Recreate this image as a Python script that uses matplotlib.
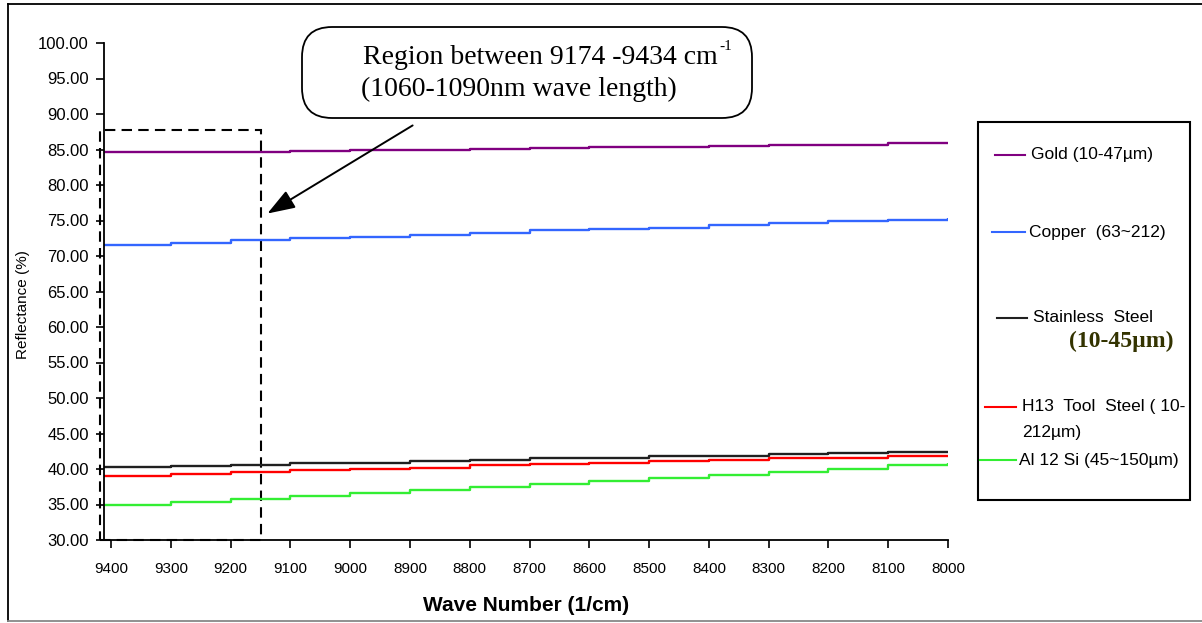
import matplotlib
matplotlib.use("Agg")
import matplotlib.pyplot as plt
from matplotlib.patches import FancyBboxPatch, Rectangle
from matplotlib.lines import Line2D

wave = [9412, 9300, 9200, 9100, 9000, 8900, 8800, 8700, 8600, 8500, 8400, 8300, 8200, 8100, 8000]
gold = [84.6, 84.6, 84.7, 84.8, 84.9, 85.0, 85.1, 85.2, 85.3, 85.4, 85.5, 85.6, 85.7, 85.9, 86.1]
copper = [71.5, 71.9, 72.2, 72.5, 72.7, 73.0, 73.3, 73.6, 73.8, 74.0, 74.3, 74.6, 74.9, 75.1, 75.3]
stainless = [40.3, 40.4, 40.6, 40.8, 40.9, 41.1, 41.3, 41.5, 41.6, 41.8, 41.9, 42.1, 42.2, 42.4, 42.5]
h13 = [39.0, 39.3, 39.6, 39.8, 40.0, 40.2, 40.5, 40.7, 40.9, 41.1, 41.3, 41.5, 41.6, 41.8, 42.0]
alsi = [35.0, 35.4, 35.8, 36.2, 36.6, 37.0, 37.5, 37.9, 38.3, 38.8, 39.2, 39.6, 40.0, 40.5, 40.9]

labels = ["Gold (10-47\u00b5m)", "Copper  (63~212)", "Stainless  Steel",
          "H13  Tool  Steel ( 10-", "Al 12 Si (45~150\u00b5m)"]
colors = ["#800080", "#3366FF", "#202020", "#FF0000", "#33EE33"]
values = [gold, copper, stainless, h13, alsi]
xticks = list(range(9400, 7999, -100))
yticks = list(range(30, 101, 5))

W, H = 1202, 623
plt.rcParams['font.family'] = ['Liberation Sans', 'DejaVu Sans']
fig = plt.figure(figsize=(W / 100, H / 100), dpi=100)

def fx(px):
    return px / W

def fy(py):
    return 1 - py / H

ax = fig.add_axes([fx(104), fy(540), fx(948) - fx(104), fy(43) - fy(540)])
for vals, col in zip(values, colors):
    ax.plot(wave, vals, color=col, lw=1.7, drawstyle="steps-post", solid_capstyle="butt")

ax.set_xlim(9412, 8000)
ax.set_ylim(30, 100)
ax.set_xticks(xticks)
ax.set_xticklabels([str(t) for t in xticks], fontsize=11,
                   family=['Liberation Sans Narrow', 'Liberation Sans'])
ax.set_yticks(yticks)
ax.set_yticklabels([f"{t:.2f}" for t in yticks], fontsize=12)
ax.spines["top"].set_visible(False)
ax.spines["right"].set_visible(False)
ax.spines["left"].set_linewidth(1.3)
ax.spines["bottom"].set_linewidth(1.3)
ax.tick_params(axis="y", direction="out", length=6, width=1.2, pad=5)
ax.tick_params(axis="x", direction="out", length=6, width=1.2, pad=10)
ax.set_xlabel("Wave Number (1/cm)", fontsize=15, fontweight="bold", labelpad=14)
ax.set_ylabel("Reflectance (%)", fontsize=11)
ax.yaxis.set_label_coords(-0.088, 0.473)

# dashed region box
ax.add_patch(Rectangle((9418, 30), 9150 - 9418, 87.7 - 30, fill=False,
                       ls=(0, (5, 3)), lw=1.5, ec="black", clip_on=False))

# callout box
fig.patches.append(FancyBboxPatch((fx(302), fy(118)), fx(752) - fx(302), fy(27) - fy(118),
                                  boxstyle="round,pad=0,rounding_size=0.025",
                                  transform=fig.transFigure, fc="white", ec="black", lw=1.3,
                                  mutation_aspect=W / H))
fig.text(fx(718), fy(57), "Region between 9174 -9434 cm", ha="right", va="center",
         fontsize=20, family="Liberation Serif")
fig.text(fx(719), fy(47), "-1", ha="left", va="center", fontsize=11, family="Liberation Serif")
fig.text(fx(519), fy(89), "(1060-1090nm wave length)", ha="center", va="center",
         fontsize=20, family="Liberation Serif")
ax.annotate("", xy=(fx(265), fy(215)), xycoords="figure fraction",
            xytext=(fx(415), fy(124)), textcoords="figure fraction",
            arrowprops=dict(arrowstyle="-|>,head_length=1.7,head_width=0.6", lw=1.4, color="black"))

# legend box
fig.patches.append(Rectangle((fx(978), fy(500)), fx(1190) - fx(978), fy(122) - fy(500),
                             transform=fig.transFigure, fill=False, ec="black", lw=1.5))
leg_pos = [(155, 995, 1025, 1031), (232, 992, 1025, 1029), (318, 997, 1027, 1033),
           (407, 985, 1016, 1022), (460, 980, 1016, 1019)]
for (y, x0, x1, tx), label, col in zip(leg_pos, labels, colors):
    fig.add_artist(Line2D([fx(x0), fx(x1)], [fy(y), fy(y)], color=col, lw=1.5,
                          transform=fig.transFigure))
    fig.text(fx(tx), fy(y), label, fontsize=12.5, va="center", ha="left")
fig.text(fx(1022), fy(432), "212\u00b5m)", fontsize=12.5, va="center", ha="left")
fig.text(fx(1069), fy(341), "(10-45\u00b5m)", fontsize=17, va="center", ha="left",
         family="Liberation Serif", fontweight="bold", color="#333300")

# outer frame
fig.add_artist(Line2D([fx(8), fx(8)], [fy(4), fy(621)], color="black", lw=1.3, transform=fig.transFigure))
fig.add_artist(Line2D([fx(8), 1], [fy(4), fy(4)], color="black", lw=1.3, transform=fig.transFigure))
fig.add_artist(Line2D([fx(8), 1], [fy(621), fy(621)], color="#888888", lw=1.3, transform=fig.transFigure))

fig.savefig("out.png", dpi=100)
